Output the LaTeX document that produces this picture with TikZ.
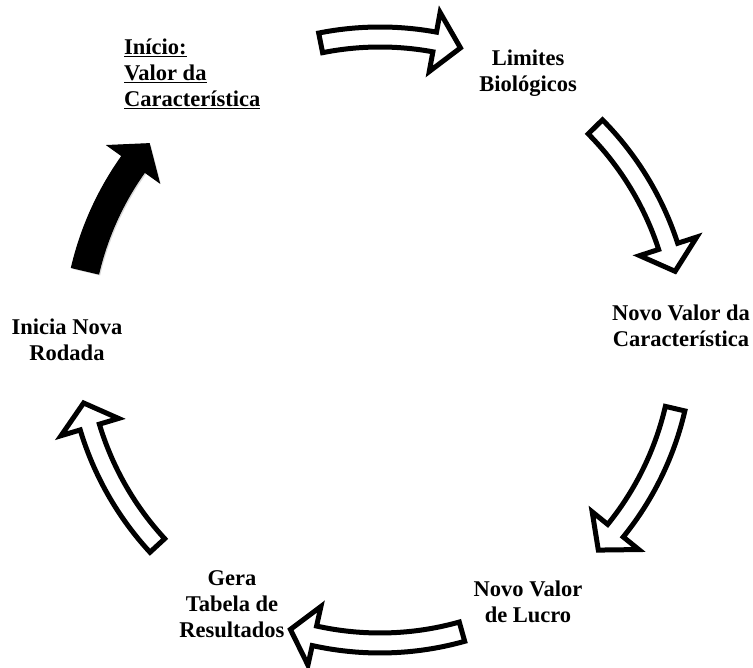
\documentclass[tikz,border=0pt]{standalone}
\usepackage{fontspec}
\setmainfont{Liberation Serif}
\usetikzlibrary{shadows}
\newcommand{\cycRad}{303}
\newcommand{\cycarrow}[6]{%
  \pgfmathsetmacro\rA{\cycRad+#5}\pgfmathsetmacro\rB{\cycRad-#5}%
  \pgfmathsetmacro\rC{\cycRad+#6}\pgfmathsetmacro\rD{\cycRad-#6}%
  \path[#1] (#2:\rA pt) arc[start angle=#2,end angle=#3,radius=\rA pt]
     -- (#3:\rC pt) -- (#4:\cycRad pt) -- (#3:\rD pt) -- (#3:\rB pt)
     arc[start angle=#3,end angle=#2,radius=\rB pt] -- cycle;}
\begin{document}
\begin{tikzpicture}[x=1pt,y=1pt,
  whitearrow/.style={draw=black,line width=5pt,fill=white,line join=miter,
     drop shadow={shadow xshift=1.5pt,shadow yshift=-1.5pt,opacity=0.3}},
  blackarrow/.style={draw=black,line width=1pt,fill=black,line join=miter,
     drop shadow={shadow xshift=1.5pt,shadow yshift=-1.5pt,opacity=0.3}},
  lbl/.style={font=\fontsize{22.5}{26}\selectfont\bfseries,align=center,inner sep=0pt}]
\useasboundingbox (0,0) rectangle (753,668);
\fill[white] (0,0) rectangle (753,668);
\begin{scope}[shift={(380,328)}]
  \cycarrow{whitearrow}{101.3}{79.6}{74.6}{10}{30}
  \cycarrow{whitearrow}{44.7}{18.0}{13.1}{10}{30}
  \cycarrow{whitearrow}{-13.1}{-39.0}{-43.9}{10}{30}
  \cycarrow{whitearrow}{-74.3}{-102.5}{-107.2}{10}{30}
  \cycarrow{whitearrow}{-137.3}{-163.3}{-168.0}{10}{30}
  \cycarrow{blackarrow}{166.8}{144.5}{139.6}{14}{32}
\end{scope}
\node[lbl,align=left,anchor=west] (inicio) at (124,594)
  {\underline{Início:}\\\underline{Valor da}\\\underline{Característica}};
\node[lbl] (limites) at (528,595) {Limites\\Biológicos};
\node[lbl] (novovalor) at (681,342) {Novo Valor da\\Característica};
\node[lbl] (lucro) at (528,66) {Novo Valor\\de Lucro};
\node[lbl] (gera) at (232,64) {Gera\\Tabela de\\Resultados};
\node[lbl] (inicia) at (67,328) {Inicia Nova\\Rodada};
\end{tikzpicture}
\end{document}
